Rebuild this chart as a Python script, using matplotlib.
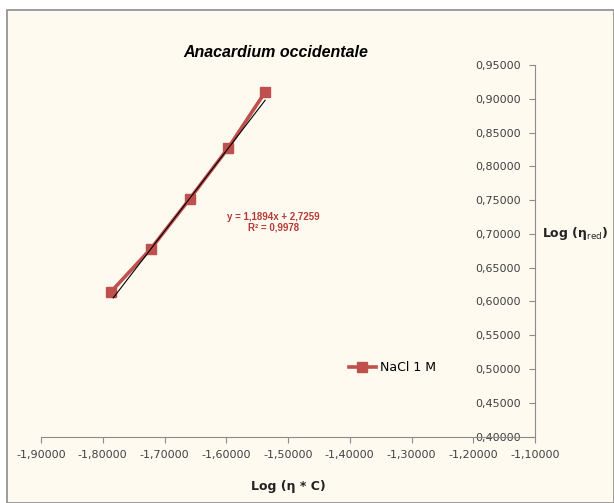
import matplotlib.pyplot as plt
from matplotlib.patches import Rectangle
import numpy as np

# data
log_eta_c = [-1.787, -1.722, -1.659, -1.597, -1.537]
log_eta_red = [0.614, 0.678, 0.752, 0.827, 0.910]
slope = 1.1894
intercept = 2.7259
x_ticks = [-1.9, -1.8, -1.7, -1.6, -1.5, -1.4, -1.3, -1.2, -1.1]
y_ticks = [0.40, 0.45, 0.50, 0.55, 0.60, 0.65, 0.70, 0.75, 0.80, 0.85, 0.90, 0.95]

red = '#C0504D'
bg = '#FEFAF0'

plt.rcParams['font.family'] = ['Liberation Sans', 'DejaVu Sans']

fig = plt.figure(figsize=(6.14, 5.03), dpi=100)
fig.patch.set_facecolor('white')
# chart area frame
frame = Rectangle((7 / 614, 0), 1 - 7 / 614, 1 - 10 / 503, transform=fig.transFigure,
                  facecolor=bg, edgecolor='#8C8C8C', linewidth=1.2, zorder=-10)
fig.add_artist(frame)

ax = fig.add_axes([41 / 614, 66.5 / 503, 494 / 614, 371.5 / 503])
ax.set_facecolor('none')

ax.plot(log_eta_c, log_eta_red, color=red, linewidth=2.6, marker='s', markersize=6.5,
        label='NaCl 1 M', zorder=3)
# linear trendline over the data range
xf = np.array([log_eta_c[0] + 0.004, log_eta_c[-1]])
ax.plot(xf, slope * xf + intercept, color='black', linewidth=0.8, zorder=4)

ax.set_xlim(-1.9, -1.1)
ax.set_ylim(0.40, 0.95)
ax.set_xticks(x_ticks)
ax.set_yticks(y_ticks)
ax.set_xticklabels([f'{v:.5f}'.replace('.', ',') for v in x_ticks])
ax.set_yticklabels([f'{v:.5f}'.replace('.', ',') for v in y_ticks])

for s in ['top', 'right']:
    ax.spines[s].set_visible(False)
ax.spines['left'].set_position(('data', -1.1))
ax.spines['left'].set_color('#8C8C8C')
ax.spines['bottom'].set_color('#8C8C8C')
ax.tick_params(axis='both', colors='#8C8C8C', labelcolor='#404040', labelsize=8,
               length=4, labelfontfamily='DejaVu Sans')
ax.tick_params(axis='x', pad=6)
ax.tick_params(axis='y', pad=6)

ax.set_title('Anacardium occidentale', fontsize=11.5, fontweight='bold', style='italic',
             x=0.476, y=1.0)
ax.set_xlabel('Log (η * C)', fontsize=9, fontweight='bold', labelpad=14, color='#222222',
              fontfamily='DejaVu Sans')
ax.text(-1.088, 0.70, 'Log (η$_{\\mathrm{red}}$)', fontsize=9, fontweight='bold',
        va='center', ha='left', color='#222222', fontfamily='DejaVu Sans')

ax.text(-1.523, 0.7175, 'y = 1,1894x + 2,7259\nR² = 0,9978', color='#B83A36', fontsize=7,
        fontweight='bold', ha='center', va='center', linespacing=1.1)

ax.legend(loc='center left', bbox_to_anchor=(0.6, 0.185), frameon=False,
          handlelength=2.2, handletextpad=0.3, prop={'family': 'DejaVu Sans', 'size': 9})

plt.savefig('out.png', dpi=100, facecolor=fig.get_facecolor())
